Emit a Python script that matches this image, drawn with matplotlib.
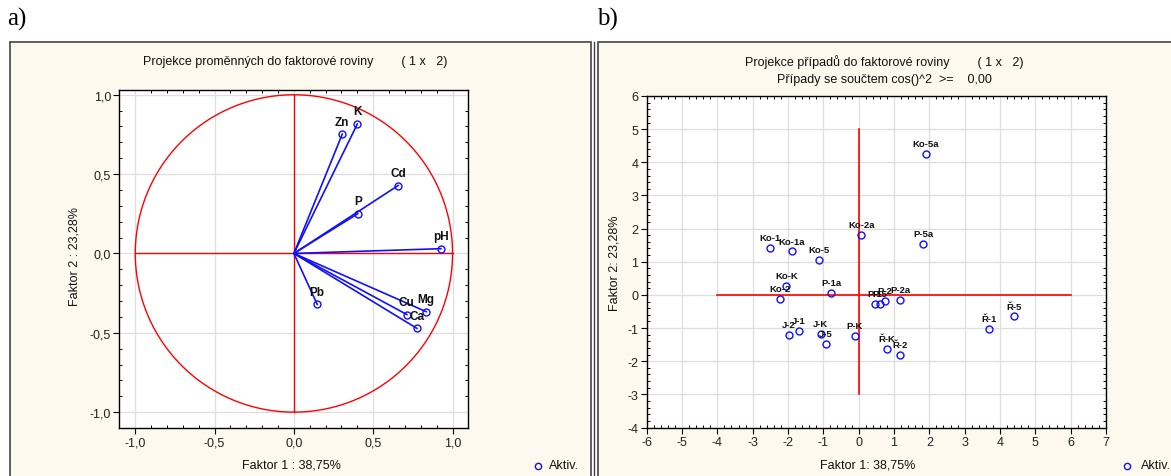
import matplotlib
matplotlib.use("Agg")
import matplotlib.pyplot as plt
from matplotlib.patches import Rectangle
from matplotlib.lines import Line2D
from matplotlib.ticker import MultipleLocator, AutoMinorLocator, FuncFormatter
import numpy as np

plt.rcParams['font.family'] = ['Liberation Sans', 'DejaVu Sans']

# ---------------- data ----------------
var_names = ['Zn', 'K', 'Cd', 'P', 'pH', 'Pb', 'Cu', 'Mg', 'Ca']
var_f1 = [0.305, 0.400, 0.657, 0.402, 0.927, 0.147, 0.712, 0.834, 0.775]
var_f2 = [0.752, 0.816, 0.428, 0.250, 0.030, -0.321, -0.385, -0.367, -0.472]

case_names = ['Ko-5a', 'Ko-2a', 'P-5a', 'Ko-1', 'Ko-1a', 'Ko-5', 'Ko-K', 'Ko-2',
              'P-1a', 'P-1', 'P-5', 'P-2', 'P-2a', 'J-2', 'J-1', 'J-K', 'J-5',
              'P-K', 'Ř-K', 'Ř-2', 'Ř-1', 'Ř-5']
case_f1 = [1.90, 0.07, 1.82, -2.50, -1.90, -1.13, -2.05, -2.23,
           -0.78, 0.45, 0.59, 0.74, 1.17, -1.97, -1.70, -1.07, -0.92,
           -0.11, 0.80, 1.17, 3.70, 4.41]
case_f2 = [4.26, 1.80, 1.53, 1.42, 1.31, 1.05, 0.27, -0.11,
           0.07, -0.27, -0.27, -0.19, -0.15, -1.21, -1.10, -1.17, -1.48,
           -1.24, -1.63, -1.81, -1.02, -0.65]

left_title = 'Projekce proměnných do faktorové roviny        ( 1 x   2)'
right_title1 = 'Projekce případů do faktorové roviny        ( 1 x   2)'
right_title2 = 'Případy se součtem cos()^2  >=    0,00'

W, H = 1171, 477
fig = plt.figure(figsize=(W / 100, H / 100), dpi=100)
fig.patch.set_facecolor('white')

def fx(px):
    return px / W

def fy(py):
    return 1 - py / H

cream = '#fdf9ee'
# panel frames
fig.add_artist(Rectangle((fx(10), fy(480)), fx(591) - fx(10), fy(43) - fy(480),
                         transform=fig.transFigure, facecolor=cream,
                         edgecolor='#444444', lw=1.2, zorder=0))
fig.add_artist(Rectangle((fx(598), fy(480)), fx(1180) - fx(598), fy(43) - fy(480),
                         transform=fig.transFigure, facecolor=cream,
                         edgecolor='#444444', lw=1.2, zorder=0))
fig.add_artist(Line2D([fx(594), fx(594)], [fy(43), fy(480)], transform=fig.transFigure,
                      color='#444444', lw=1.0, zorder=0))

blue = '#1010ff'
red = '#ff0000'
fs = 9

def comma_fmt(v, pos):
    return ('%.1f' % v).replace('.', ',')

def style_axes(ax):
    ax.set_facecolor('white')
    for s in ax.spines.values():
        s.set_linewidth(1.0)
        s.set_color('black')
    ax.grid(True, which='major', color='#dedede', lw=0.9, zorder=0)
    ax.tick_params(which='major', direction='out', length=4, width=0.8,
                   labelsize=fs, pad=2, colors='black', labelcolor='#222222',
                   top=False, right=False)
    ax.tick_params(which='minor', direction='in', length=2.5, width=0.7,
                   top=True, right=True, bottom=True, left=True)
    ax.set_axisbelow(True)

# ---------------- left panel ----------------
axL = fig.add_axes([fx(119.4), fy(429), fx(468.4) - fx(119.4), fy(91) - fy(429)])
style_axes(axL)
axL.set_xlim(-1.1, 1.1)
axL.set_ylim(-1.1, 1.03)
axL.xaxis.set_major_locator(MultipleLocator(0.5))
axL.yaxis.set_major_locator(MultipleLocator(0.5))
axL.xaxis.set_minor_locator(MultipleLocator(0.1))
axL.yaxis.set_minor_locator(MultipleLocator(0.1))
axL.xaxis.set_major_formatter(FuncFormatter(comma_fmt))
axL.yaxis.set_major_formatter(FuncFormatter(comma_fmt))

theta = np.linspace(0, 2 * np.pi, 400)
axL.plot(np.cos(theta), np.sin(theta), color=red, lw=1.0, zorder=2)
axL.plot([-1, 1], [0, 0], color=red, lw=1.0, zorder=2)
axL.plot([0, 0], [-1, 1], color=red, lw=1.0, zorder=2)
for name, a, b in zip(var_names, var_f1, var_f2):
    axL.plot([0, a], [0, b], color=blue, lw=1.2, zorder=3)
axL.plot(var_f1, var_f2, 'o', ms=5, mfc='none', mec=blue, mew=1.0, zorder=4)
for name, a, b in zip(var_names, var_f1, var_f2):
    axL.annotate(name, (a, b), xytext=(0, 9), textcoords='offset points',
                 ha='center', va='center', fontsize=8.5, fontweight='bold',
                 color='#111111', zorder=5)

fig.text(fx(295), fy(62), left_title, ha='center', va='center', fontsize=fs, color='#111111')
axL.set_xlabel('Faktor 1 : 38,75%', fontsize=fs, color='#111111')
axL.set_ylabel('Faktor 2 : 23,28%', fontsize=fs, color='#111111')

# ---------------- right panel ----------------
axR = fig.add_axes([fx(646.7), fy(428.5), fx(1106) - fx(646.7), fy(97) - fy(428.5)])
style_axes(axR)
axR.set_xlim(-6, 7)
axR.set_ylim(-4, 6)
axR.xaxis.set_major_locator(MultipleLocator(1))
axR.yaxis.set_major_locator(MultipleLocator(1))
axR.xaxis.set_minor_locator(AutoMinorLocator(5))
axR.yaxis.set_minor_locator(AutoMinorLocator(5))
axR.xaxis.set_major_formatter(FuncFormatter(lambda v, p: '%d' % v))
axR.yaxis.set_major_formatter(FuncFormatter(lambda v, p: '%d' % v))

axR.plot([-4, 6], [0, 0], color=red, lw=1.2, zorder=2)
axR.plot([0, 0], [-3, 5], color=red, lw=1.2, zorder=2)
axR.plot(case_f1, case_f2, 'o', ms=5, mfc='none', mec=blue, mew=1.0, zorder=4)
for name, a, b in zip(case_names, case_f1, case_f2):
    axR.annotate(name, (a, b), xytext=(0, 7.5), textcoords='offset points',
                 ha='center', va='center', fontsize=6.8, fontweight='bold',
                 color='#111111', zorder=5)

fig.text(fx(884), fy(62), right_title1, ha='center', va='center', fontsize=fs, color='#111111')
fig.text(fx(884), fy(80), right_title2, ha='center', va='center', fontsize=fs, color='#111111')
axR.set_xlabel('Faktor 1: 38,75%', fontsize=fs, color='#111111')
axR.set_ylabel('Faktor 2: 23,28%', fontsize=fs, color='#111111')

# axis label positions (figure pixel coordinates)
for ax, lx, ly, yx, yy in [(axL, 291, 466, 75, 257), (axR, 868, 466, 615, 263)]:
    inv = ax.transAxes.inverted()
    px = np.array([[lx, H - ly], [yx, H - yy]], dtype=float)
    pts = inv.transform(fig.transFigure.transform(px / [W, H]))
    ax.xaxis.set_label_coords(pts[0][0], pts[0][1])
    ax.xaxis.label.set_va('center')
    ax.yaxis.set_label_coords(pts[1][0], pts[1][1])
    ax.yaxis.label.set_va('center')

# legends "Aktiv."
for cx, tx in [(538, 549), (1127, 1141)]:
    fig.add_artist(Line2D([fx(cx)], [fy(467)], marker='o', ms=4.5, mfc='none',
                          mec=blue, mew=1.0, transform=fig.transFigure))
    fig.text(fx(tx), fy(466), 'Aktiv.', ha='left', va='center', fontsize=fs, color='#111111')

# panel letters
fig.text(fx(7), fy(19), 'a)', ha='left', va='center', fontsize=18,
         family=['Liberation Serif', 'DejaVu Serif'])
fig.text(fx(597), fy(19), 'b)', ha='left', va='center', fontsize=18,
         family=['Liberation Serif', 'DejaVu Serif'])

fig.savefig('out.png', dpi=100, facecolor=fig.get_facecolor())
